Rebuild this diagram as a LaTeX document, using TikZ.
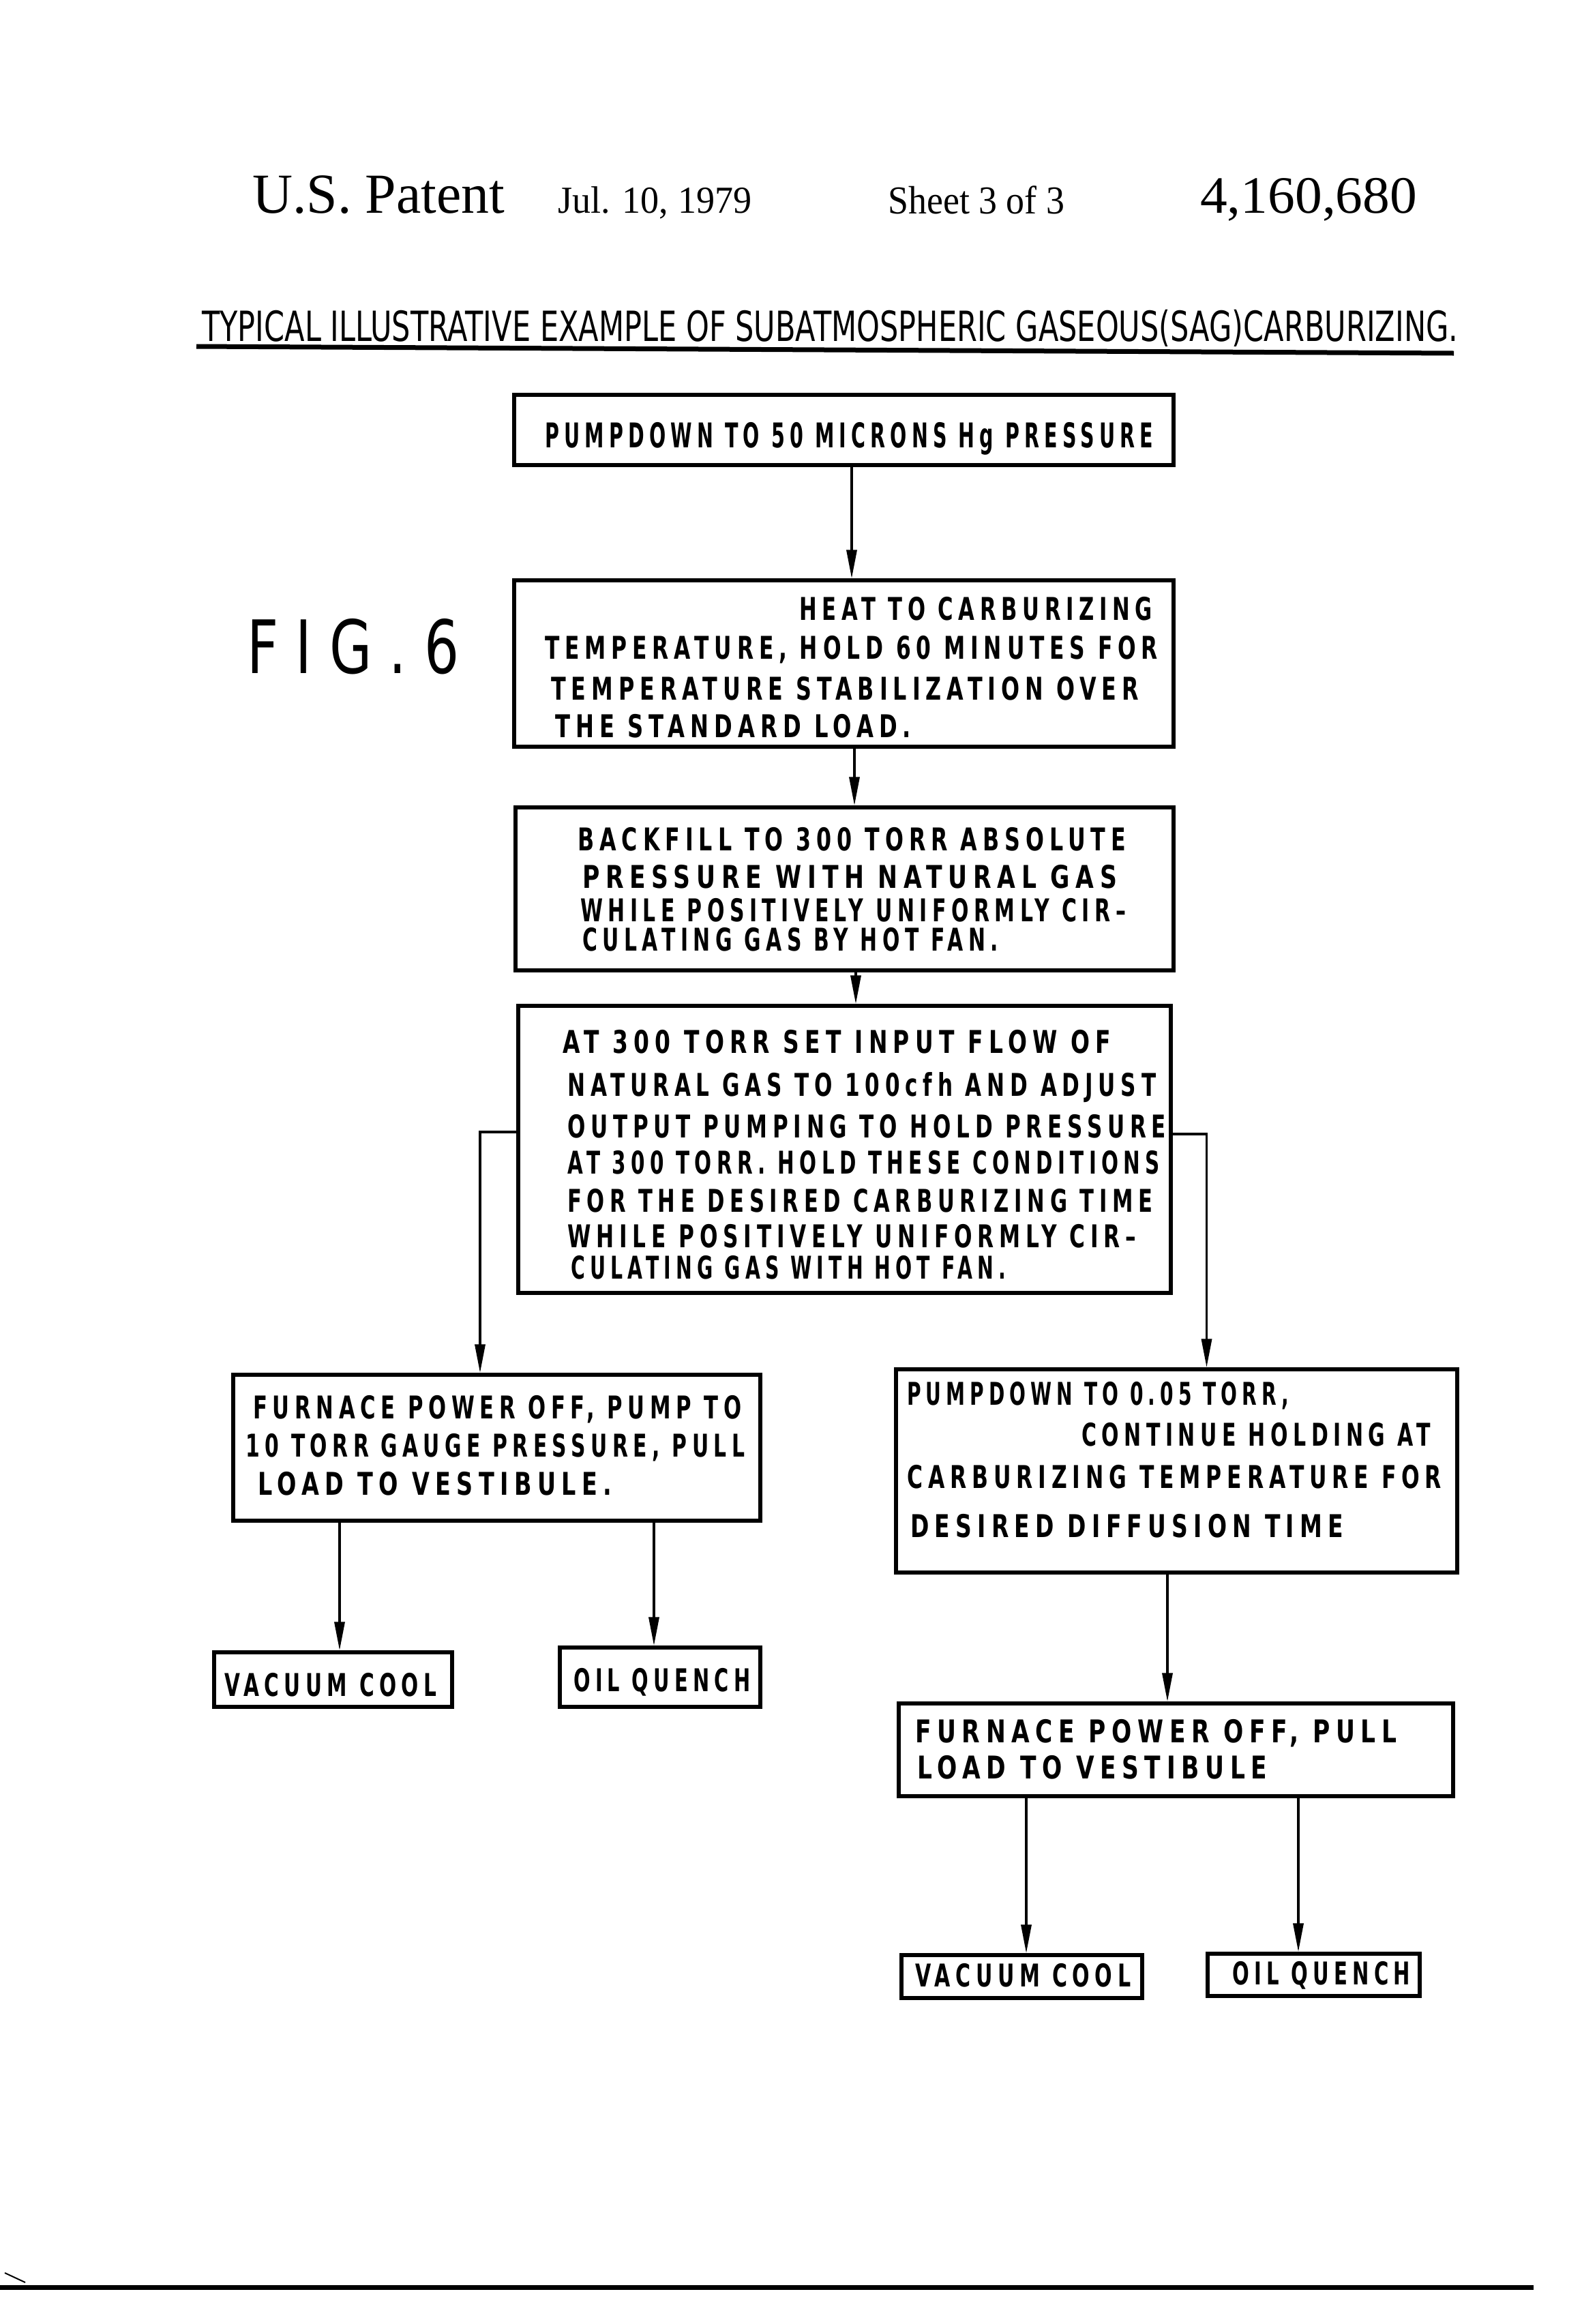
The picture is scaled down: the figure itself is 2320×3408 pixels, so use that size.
\documentclass[tikz,border=0pt]{standalone}
\usepackage{fontspec}
\usepackage{graphicx}
\setmainfont{Liberation Serif}
\newfontfamily\letfont[LetterSpace=25]{DejaVu Sans}
\newfontfamily\plainsans{DejaVu Sans}
\usetikzlibrary{arrows.meta}
\newsavebox\fitbox
\newcommand\fitw[2]{\sbox\fitbox{#2}\pgfmathsetmacro\fitsx{#1/\the\wd\fitbox}\scalebox{\fitsx}[1]{\usebox\fitbox}}
\tikzset{
  box/.style={draw, line width=5.5pt, inner sep=0pt},
  ln/.style={anchor=base west, inner sep=0pt, font=\letfont\bfseries\fontsize{46}{46}\selectfont},
  lnbig/.style={ln, font=\letfont\bfseries\fontsize{50}{50}\selectfont},
  hdr/.style={anchor=base west, inner sep=0pt},
  arr/.style={line width=3.5pt, -{Triangle[length=42pt,width=15pt]}},
}
\begin{document}
\begin{tikzpicture}[x=1pt,y=-1pt]
\fill[white] (0,0) rectangle (2320,3408);
\useasboundingbox (0,0) rectangle (2320,3408);

% header
\node[hdr, font=\fontsize{83}{83}\selectfont] (h1) at (370,312) {\fitw{370}{U.S. Patent}};
\node[hdr, font=\fontsize{56}{56}\selectfont] (h2) at (818,312) {\fitw{284}{Jul. 10, 1979}};
\node[hdr, font=\fontsize{58}{58}\selectfont] (h3) at (1302,313) {\fitw{259}{Sheet 3 of 3}};
\node[hdr, font=\fontsize{77}{77}\selectfont] (h4) at (1760,312) {\fitw{318}{4,160,680}};

% title
\node[hdr, font=\plainsans\fontsize{61}{61}\selectfont] (title) at (296,500) {\fitw{1842}{TYPICAL ILLUSTRATIVE EXAMPLE OF SUBATMOSPHERIC GASEOUS(SAG)CARBURIZING.}};
\draw[line width=7pt] (288,508) -- (2132,518);

% figure label
\node[hdr, font=\plainsans\fontsize{108}{108}\selectfont] (fig) at (362,987) {\fitw{311}{F I G . 6}};

% boxes
\node[box, minimum width=967pt, minimum height=103pt] (b1) at (1237.5,630.5) {};
\node[box, minimum width=967pt, minimum height=244pt] (b2) at (1237.5,973) {};
\node[box, minimum width=965pt, minimum height=239pt] (b3) at (1238.5,1303.5) {};
\node[box, minimum width=957pt, minimum height=421pt] (b4) at (1238.5,1685.5) {};
\node[box, minimum width=773pt, minimum height=214pt] (b5) at (728.5,2123) {};
\node[box, minimum width=823pt, minimum height=298pt] (b6) at (1725.5,2157) {};
\node[box, minimum width=813pt, minimum height=136pt] (b7) at (1724.5,2566) {};
\node[box, minimum width=349pt, minimum height=80pt] (vc1) at (488.5,2463) {};
\node[box, minimum width=294pt, minimum height=87pt] (oq1) at (968,2459.5) {};
\node[box, minimum width=353pt, minimum height=63pt] (vc2) at (1498.5,2898.5) {};
\node[box, minimum width=311pt, minimum height=62pt] (oq2) at (1926.5,2896) {};

% box texts
\node[lnbig] (t1) at (799,656) {\fitw{892}{PUMPDOWN TO 50 MICRONS Hg PRESSURE}};

\node[ln] (t2a) at (1172,909) {\fitw{518}{HEAT TO CARBURIZING}};
\node[ln] (t2b) at (799,966) {\fitw{899}{TEMPERATURE, HOLD 60 MINUTES FOR}};
\node[ln] (t2c) at (808,1026) {\fitw{862}{TEMPERATURE STABILIZATION OVER}};
\node[ln] (t2d) at (814,1081) {\fitw{522}{THE STANDARD LOAD.}};

\node[ln] (t3a) at (847,1247) {\fitw{804}{BACKFILL TO 300 TORR ABSOLUTE}};
\node[ln] (t3b) at (854,1302) {\fitw{784}{PRESSURE WITH NATURAL GAS}};
\node[ln] (t3c) at (851,1351) {\fitw{800}{WHILE POSITIVELY UNIFORMLY CIR–}};
\node[ln] (t3d) at (854,1394) {\fitw{610}{CULATING GAS BY HOT FAN.}};

\node[ln] (t4a) at (825,1544) {\fitw{804}{AT 300 TORR SET INPUT FLOW OF}};
\node[ln] (t4b) at (832,1607) {\fitw{863}{NATURAL GAS TO 100cfh AND ADJUST}};
\node[ln] (t4c) at (832,1668) {\fitw{878}{OUTPUT PUMPING TO HOLD PRESSURE}};
\node[ln] (t4d) at (832,1721) {\fitw{869}{AT 300 TORR. HOLD THESE CONDITIONS}};
\node[ln] (t4e) at (832,1777) {\fitw{858}{FOR THE DESIRED CARBURIZING TIME}};
\node[ln] (t4f) at (832,1829) {\fitw{834}{WHILE POSITIVELY UNIFORMLY CIR–}};
\node[ln] (t4g) at (837,1875) {\fitw{638}{CULATING GAS WITH HOT FAN.}};

\node[ln] (t5a) at (371,2080) {\fitw{716}{FURNACE POWER OFF, PUMP TO}};
\node[ln] (t5b) at (360,2136) {\fitw{732}{10 TORR GAUGE PRESSURE, PULL}};
\node[ln] (t5c) at (378,2192) {\fitw{519}{LOAD TO VESTIBULE.}};

\node[ln] (t6a) at (1330,2060) {\fitw{560}{PUMPDOWN TO 0.05 TORR,}};
\node[ln] (t6b) at (1586,2120) {\fitw{512}{CONTINUE HOLDING AT}};
\node[ln] (t6c) at (1330,2182) {\fitw{784}{CARBURIZING TEMPERATURE FOR}};
\node[ln] (t6d) at (1335,2254) {\fitw{635}{DESIRED DIFFUSION TIME}};

\node[ln] (t7a) at (1342,2555) {\fitw{706}{FURNACE POWER OFF, PULL}};
\node[ln] (t7b) at (1345,2608) {\fitw{513}{LOAD TO VESTIBULE}};

\node[ln] (tvc1) at (329,2487) {\fitw{311}{VACUUM COOL}};
\node[ln] (toq1) at (841,2480) {\fitw{259}{OIL QUENCH}};
\node[ln] (tvc2) at (1342,2913) {\fitw{316}{VACUUM COOL}};
\node[ln] (toq2) at (1807,2910) {\fitw{261}{OIL QUENCH}};

% connectors
\draw[arr] ([xshift=11.5pt]b1.south) -- ([xshift=11.5pt]b2.north);
\draw[arr] ([xshift=15.5pt]b2.south) -- ([xshift=14.5pt]b3.north);
\draw[arr] ([xshift=16.5pt]b3.south) -- ([xshift=16.5pt]b4.north);
\draw[arr] ([yshift=25.5pt]b4.west) -| ([xshift=-24.5pt]b5.north);
\draw[arr] ([yshift=22.5pt]b4.east) -| ([xshift=44pt]b6.north);
\draw[arr] ([xshift=-230.5pt]b5.south) -- ([xshift=9.5pt]vc1.north);
\draw[arr] ([xshift=230.5pt]b5.south) -- ([xshift=-9pt]oq1.north);
\draw[arr] ([xshift=-13.5pt]b6.south) -- ([xshift=-12.5pt]b7.north);
\draw[arr] ([xshift=-219.5pt]b7.south) -- ([xshift=6.5pt]vc2.north);
\draw[arr] ([xshift=179.5pt]b7.south) -- ([xshift=-22.5pt]oq2.north);

% page rule
\draw[line width=7pt] (0,3354.5) -- (2249,3354.5);
\draw[line width=2pt] (7,3333) -- (37,3347);
\end{tikzpicture}
\end{document}
